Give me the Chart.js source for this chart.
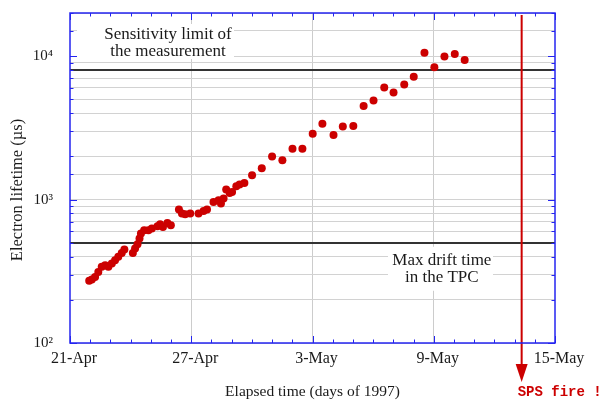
<!DOCTYPE html>
<html>
<head>
<meta charset="utf-8">
<script src="https://cdn.jsdelivr.net/npm/chart.js@4"></script>
<style>
  html, body { margin: 0; padding: 0; background: #fff; }
  #wrap { width: 604px; height: 403px; }
</style>
</head>
<body>
<div id="wrap"><canvas id="c" width="604" height="403"></canvas></div>
<script>
// ---- data (x in days since 21-Apr-1997, y in microseconds) ----
const days = [0.95,1.08,1.24,1.40,1.57,1.74,1.90,2.07,2.23,2.39,2.56,2.69,3.11,3.22,3.34,3.44,3.51,3.67,3.88,4.05,4.33,4.46,4.60,4.82,4.99,5.39,5.54,5.70,5.95,6.36,6.61,6.78,7.10,7.35,7.47,7.60,7.73,7.90,8.02,8.23,8.39,8.63,9.01,9.49,10.00,10.51,11.01,11.50,12.01,12.49,13.04,13.50,14.02,14.53,15.02,15.55,16.01,16.54,17.01,17.54,18.03,18.53,19.04,19.53];
const lifetime = [272,277,289,313,340,349,340,359,378,399,425,449,425,456,489,535,580,611,611,628,652,673,645,687,662,852,799,790,799,799,833,852,962,989,938,1016,1174,1111,1130,1238,1272,1305,1476,1651,2001,1877,2264,2264,2879,3380,2816,3236,3264,4495,4910,6045,5580,6345,7177,10545,8370,9937,10375,9420];
const xTickDays = [0, 6, 12, 18, 24];
const xTickLabels = ['21-Apr', '27-Apr', '3-May', '9-May', '15-May'];
const yTickValues = [100, 1000, 10000];
const yTickLabels = ['10\u00B2', '10\u00B3', '10\u2074'];
const sensitivityLimit = 8000;
const maxDriftTime = 500;
const fireDay = 22.35;
const yTitle = 'Electron lifetime (\u00B5s)';
const xTitle = 'Elapsed time (days of 1997)';
const sensitivityText = ['Sensitivity limit of', 'the measurement'];
const driftText = ['Max drift time', 'in the TPC'];
const fireText = 'SPS fire !';

const SERIF = '"Liberation Serif", "DejaVu Serif", serif';
const AXIS_BLUE = '#2424f0';
const RED = '#cc0000';
const TEXT = '#1a1a1a';

const overlay = {
  id: 'overlay',
  beforeDatasetsDraw(chart) {
    const ctx = chart.ctx, a = chart.chartArea;
    const xs = chart.scales.x, ys = chart.scales.y;
    ctx.save();
    // white label boxes
    ctx.fillStyle = '#fff';
    ctx.fillRect(77, a.top + 11, 157, 35);
    ctx.fillRect(388, ys.getPixelForValue(maxDriftTime) + 4, 105, 44);
    // horizontal reference lines
    ctx.strokeStyle = '#333';
    ctx.lineWidth = 2;
    [sensitivityLimit, maxDriftTime].forEach(v => {
      const y = Math.round(ys.getPixelForValue(v));
      ctx.beginPath(); ctx.moveTo(a.left, y); ctx.lineTo(a.right, y); ctx.stroke();
    });
    // annotation text
    ctx.fillStyle = TEXT;
    ctx.font = '17px ' + SERIF;
    ctx.textAlign = 'center';
    ctx.textBaseline = 'middle';
    const sx = xs.getPixelForValue(4.85);
    ctx.fillText(sensitivityText[0], sx, a.top + 21.5);
    ctx.fillText(sensitivityText[1], sx, a.top + 38.5);
    const dx = xs.getPixelForValue(18.4);
    const dy = ys.getPixelForValue(maxDriftTime);
    ctx.fillText(driftText[0], dx, dy + 17.5);
    ctx.fillText(driftText[1], dx, dy + 34.5);
    // red arrow (SPS fire)
    const fx = xs.getPixelForValue(fireDay);
    ctx.strokeStyle = RED;
    ctx.fillStyle = RED;
    ctx.lineWidth = 2;
    ctx.beginPath(); ctx.moveTo(fx, a.top + 2); ctx.lineTo(fx, 366); ctx.stroke();
    ctx.beginPath(); ctx.moveTo(fx - 6, 364); ctx.lineTo(fx + 6, 364); ctx.lineTo(fx, 382); ctx.closePath(); ctx.fill();
    ctx.font = 'bold 14px "Liberation Mono", "DejaVu Sans Mono", monospace';
    ctx.textAlign = 'left';
    ctx.fillText(fireText, fx - 4, 392);
    ctx.restore();
  },
  afterDraw(chart) {
    const ctx = chart.ctx, a = chart.chartArea;
    const xs = chart.scales.x, ys = chart.scales.y;
    ctx.save();
    // y-axis title
    ctx.fillStyle = TEXT;
    ctx.font = '16.5px ' + SERIF;
    ctx.textAlign = 'center';
    ctx.textBaseline = 'middle';
    ctx.translate(17.5, 190);
    ctx.rotate(-Math.PI / 2);
    ctx.fillText(yTitle, 0, 0);
    ctx.setTransform(chart.currentDevicePixelRatio, 0, 0, chart.currentDevicePixelRatio, 0, 0);
    // frame and inward ticks
    ctx.strokeStyle = AXIS_BLUE;
    ctx.lineWidth = 1.5;
    ctx.strokeRect(a.left, a.top, a.right - a.left, a.bottom - a.top);
    ctx.lineWidth = 1;
    ctx.beginPath();
    xs.ticks.forEach(t => {
      const x = Math.round(xs.getPixelForValue(t.value)) + 0.5;
      const len = (t.value % 6 === 0) ? 7 : 3.5;
      ctx.moveTo(x, a.bottom); ctx.lineTo(x, a.bottom - len);
      ctx.moveTo(x, a.top); ctx.lineTo(x, a.top + len);
    });
    ys.ticks.forEach(t => {
      const y = Math.round(ys.getPixelForValue(t.value)) + 0.5;
      const major = yTickValues.includes(t.value);
      const len = major ? 7 : 3.5;
      ctx.moveTo(a.left, y); ctx.lineTo(a.left + len, y);
      ctx.moveTo(a.right, y); ctx.lineTo(a.right - len, y);
    });
    ctx.stroke();
    ctx.restore();
  }
};

new Chart(document.getElementById('c'), {
  type: 'scatter',
  data: {
    datasets: [{
      data: days.map((d, i) => ({ x: d, y: lifetime[i] })),
      backgroundColor: RED,
      borderWidth: 0,
      pointRadius: 4,
      pointHoverRadius: 4
    }]
  },
  options: {
    responsive: false,
    animation: false,
    events: [],
    layout: { padding: { top: 13, right: 49, left: 0, bottom: 0 } },
    plugins: { legend: { display: false }, tooltip: { enabled: false } },
    scales: {
      x: {
        type: 'linear',
        min: 0, max: 24,
        afterFit(s) { s.height = 60; },
        border: { display: false },
        grid: {
          drawTicks: false,
          color: c => (c.tick && c.tick.value % 6 === 0 && c.tick.value > 0 && c.tick.value < 24) ? '#cccccc' : 'rgba(0,0,0,0)',
          lineWidth: 1
        },
        ticks: {
          stepSize: 1,
          autoSkip: false,
          maxRotation: 0,
          padding: 6,
          labelOffset: 4,
          color: TEXT,
          font: { family: SERIF, size: 16 },
          callback: v => { const i = xTickDays.indexOf(v); return i >= 0 ? xTickLabels[i] : ''; }
        },
        title: {
          display: true,
          text: xTitle,
          color: TEXT,
          font: { family: SERIF, size: 15.5 },
          padding: { top: 0, bottom: 2 }
        }
      },
      y: {
        type: 'logarithmic',
        min: 100, max: 20000,
        afterFit(s) { s.width = 70; s.paddingTop = 0; s.paddingBottom = 0; },
        border: { display: false },
        grid: { drawTicks: false, color: '#d2d2d2', lineWidth: 1 },
        ticks: {
          autoSkip: false,
          padding: 17,
          color: TEXT,
          font: { family: SERIF, size: 15 },
          callback: v => { const i = yTickValues.indexOf(v); return i >= 0 ? yTickLabels[i] : ''; }
        },
        title: { display: false }
      }
    }
  },
  plugins: [overlay]
});
</script>
</body>
</html>
